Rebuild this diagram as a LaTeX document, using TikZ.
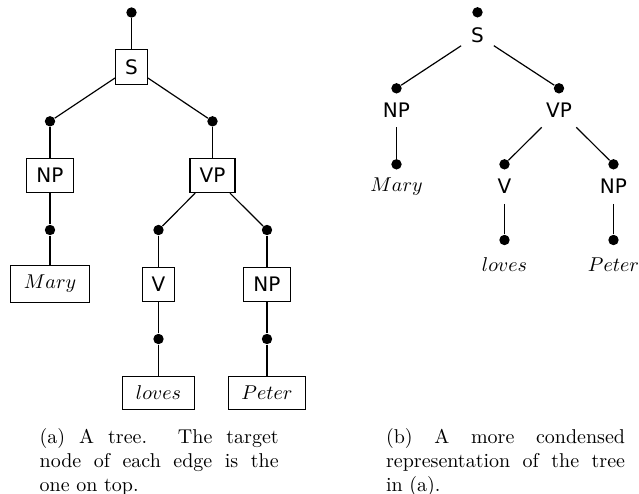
\documentclass[tikz,border=0pt]{standalone}
\usepackage{fontspec}
\newfontfamily\labelsans{DejaVu Sans}
\begin{document}
\begin{tikzpicture}[x=0.5pt,y=-0.5pt,
  dot/.style={circle,fill=black,inner sep=0pt,minimum size=5.2pt},
  cat/.style={inner xsep=4.8pt,inner ysep=4.8pt,font=\labelsans},
  catbox/.style={cat,draw,line width=0.55pt},
  word/.style={inner xsep=6.5pt,inner ysep=4.8pt},
  wordbox/.style={word,draw,line width=0.55pt},
  edge/.style={line width=0.6pt},
  capt/.style={text width=119.5pt,align=justify,inner sep=0pt,anchor=north west,font=\normalsize}]
\useasboundingbox (0,0) rectangle (639,494);
% ---- left tree ----
\node[dot] (t0) at (131.5,12.5) {};
\node[catbox] (S) at (131.5,67) {S};
\node[dot] (d1) at (50,121.3) {};
\node[dot] (d2) at (212.5,121.3) {};
\node[catbox] (NPa) at (50,175.7) {NP};
\node[catbox] (VPa) at (212.5,175.7) {VP};
\node[dot] (d3) at (50,230) {};
\node[dot] (d4) at (158.5,230) {};
\node[dot] (d5) at (267,230) {};
\node[wordbox] (Marya) at (50,283.8) {$Mary$};
\node[catbox] (Va) at (158.5,284.5) {V};
\node[catbox] (NPb) at (267,284.5) {NP};
\node[dot] (d6) at (158.5,339) {};
\node[dot] (d7) at (267,339) {};
\node[wordbox] (lovesa) at (158.5,392.8) {$loves$};
\node[wordbox] (Petera) at (267,392.8) {$Peter$};
\draw[edge] (t0) -- (S);
\draw[edge] (S) -- (d1);
\draw[edge] (S) -- (d2);
\draw[edge] (d1) -- (NPa);
\draw[edge] (d2) -- (VPa);
\draw[edge] (NPa) -- (d3);
\draw[edge] (d3) -- (Marya);
\draw[edge] (VPa) -- (d4);
\draw[edge] (VPa) -- (d5);
\draw[edge] (d4) -- (Va);
\draw[edge] (d5) -- (NPb);
\draw[edge] (Va) -- (d6);
\draw[edge] (NPb) -- (d7);
\draw[edge] (d6) -- (lovesa);
\draw[edge] (d7) -- (Petera);
% ---- right tree ----
\node[dot] (r0) at (477.5,12.3) {};
\node[cat] (rS) at (477.5,35) {S};
\node[dot] (r1) at (396.5,88.3) {};
\node[cat] (rNP) at (396.5,110) {NP};
\node[dot] (r2) at (559,88.3) {};
\node[cat] (rVP) at (559,110) {VP};
\node[dot] (r3) at (396.5,164.3) {};
\node[word] (rMary) at (396.5,186.7) {$Mary$};
\node[dot] (r4) at (504.5,164.3) {};
\node[cat] (rV) at (504.5,186.7) {V};
\node[dot] (r5) at (613.5,164.3) {};
\node[cat] (rNPb) at (613.5,186.7) {NP};
\node[dot] (r6) at (504.5,240) {};
\node[word] (rloves) at (504.5,265) {$loves$};
\node[dot] (r7) at (613.5,240) {};
\node[word] (rPeter) at (613.5,265) {$Peter$};
\draw[edge] (rS) -- (r1);
\draw[edge] (rS) -- (r2);
\draw[edge] (rNP) -- (r3);
\draw[edge] (rVP) -- (r4);
\draw[edge] (rVP) -- (r5);
\draw[edge] (rV) -- (r6);
\draw[edge] (rNPb) -- (r7);
% ---- captions ----
\node[capt] (capa) at (39.3,428) {(a) A tree. The target\linebreak node of each edge is the\linebreak one on top.};
\node[capt] (capb) at (385.7,428) {(b) A more condensed\linebreak representation of the tree\linebreak in (a).};
\end{tikzpicture}
\end{document}
